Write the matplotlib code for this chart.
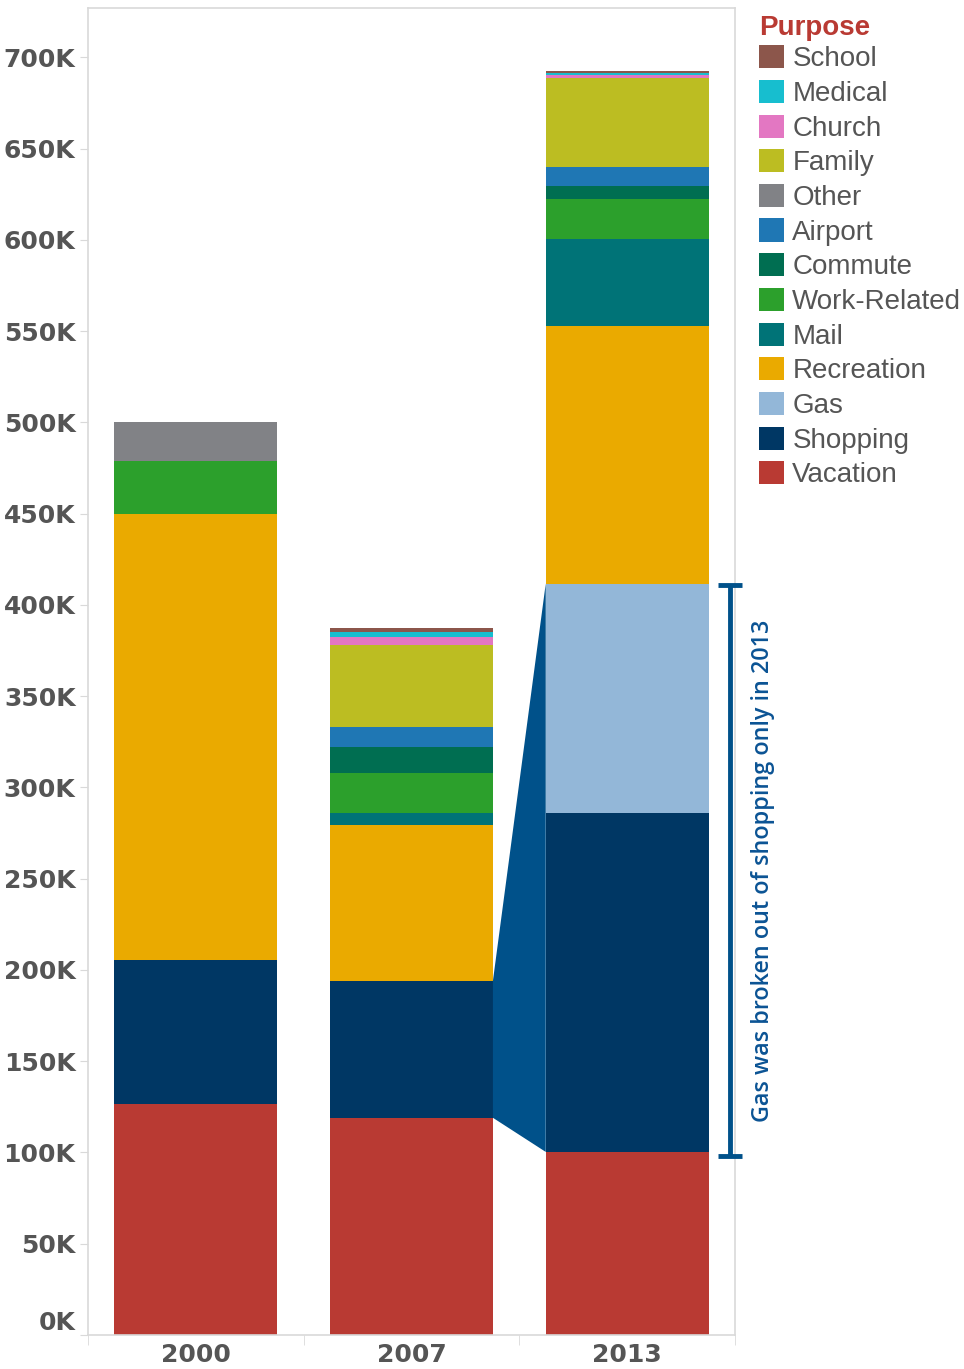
import numpy as np
import matplotlib
matplotlib.use("Agg")
import matplotlib.pyplot as plt
from matplotlib.patches import Patch, Polygon


# ============================================================
# DATA (thousands of trips)
# ============================================================
years = ["2000", "2007", "2013"]

# stacked bottom -> top
purposes = [
    "Vacation", "Shopping", "Gas", "Recreation", "Mail", "Work-Related",
    "Commute", "Airport", "Other", "Family", "Church", "Medical", "School",
]

vacation = [126.6, 119.0, 100.3]
shopping = [79.0, 75.0, 185.9]
gas = [0.0, 0.0, 125.5]
recreation = [244.0, 85.6, 140.9]
mail = [0.0, 6.6, 47.7]
work_related = [29.0, 21.9, 22.0]
commute = [0.0, 14.3, 7.1]
airport = [0.0, 10.9, 10.4]
other = [21.4, 0.0, 0.0]
family = [0.0, 44.8, 48.6]
church = [0.0, 4.4, 1.8]
medical = [0.0, 2.4, 1.1]
school = [0.0, 2.2, 1.1]

series = [vacation, shopping, gas, recreation, mail, work_related,
          commute, airport, other, family, church, medical, school]

colors = {
    "Vacation": "#b93a33",
    "Shopping": "#003764",
    "Gas": "#93b7d8",
    "Recreation": "#eaaa00",
    "Mail": "#007377",
    "Work-Related": "#2ca02c",
    "Commute": "#006e51",
    "Airport": "#1f77b4",
    "Other": "#818286",
    "Family": "#bcbd22",
    "Church": "#e377c2",
    "Medical": "#17becf",
    "School": "#8c564b",
}

y_ticks = list(range(0, 701, 50))
note = "Gas was broken out of shopping only in 2013"

# ============================================================
# PLOT
# ============================================================
fig = plt.figure(figsize=(9.64, 13.69), dpi=100)
ax = fig.add_axes([88 / 964, 34 / 1369, 647 / 964, 1327 / 1369])

x = np.arange(len(years))
bar_w = 0.755
bottoms = np.zeros(len(years))
cum = {}

for name, vals in zip(purposes, series):
    vals = np.array(vals)
    ax.bar(x, vals, bottom=bottoms, width=bar_w,
           color=colors[name], linewidth=0, zorder=2)
    cum[name] = (bottoms.copy(), bottoms + vals)
    bottoms = bottoms + vals

# connector from 2007 shopping to 2013 shopping + gas
half = bar_w / 2
poly = Polygon([
    (x[1] + half, cum["Shopping"][0][1]),
    (x[1] + half, cum["Shopping"][1][1]),
    (x[2] - half, cum["Gas"][1][2]),
    (x[2] - half, cum["Shopping"][0][2]),
], closed=True, facecolor="#00518a", edgecolor="none", zorder=3)
ax.add_patch(poly)

# bracket
ann_color = "#00518a"
bx = 2.477
y_lo = cum["Shopping"][0][2] - 2.5
y_hi = cum["Gas"][1][2] - 1.0
ax.plot([bx, bx], [y_lo, y_hi], color=ann_color, lw=3.5,
        clip_on=False, zorder=5, solid_capstyle="butt")
for yy in (y_lo, y_hi):
    ax.plot([bx - 0.055, bx + 0.055], [yy, yy], color=ann_color, lw=3.5,
            clip_on=False, zorder=5, solid_capstyle="butt")

ax.text(2.63, (y_lo + y_hi) / 2, note, rotation=90, ha="center",
        va="center", color="#0b5394", fontsize=16.8, fontweight="semibold",
        family=["Open Sans", "DejaVu Sans"], clip_on=False)

# axes styling
ax.set_xlim(-0.5, 2.5)
ax.set_ylim(0, 727)
for s in ax.spines.values():
    s.set_color("#d9d9d9")
    s.set_linewidth(1.2)

ax.set_yticks(y_ticks)
ax.set_yticklabels([f"{v}K" for v in y_ticks])
ax.tick_params(axis="y", length=6, color="#d9d9d9", pad=3)
for lbl in ax.get_yticklabels():
    lbl.set_family(["Liberation Sans Narrow", "DejaVu Sans"])
    lbl.set_fontweight("bold")
    lbl.set_fontsize(18)
    lbl.set_color("#555555")
# nudge 0K label up like the original
ax.get_yticklabels()[0].set_va("bottom")

ax.set_xticks(x)
ax.set_xticklabels(years)
ax.set_xticks([-0.5, 0.5, 1.5, 2.5], minor=True)
ax.tick_params(axis="x", which="major", length=0, pad=6)
ax.tick_params(axis="x", which="minor", length=7, color="#d9d9d9")
for lbl in ax.get_xticklabels():
    lbl.set_family(["Liberation Sans Narrow", "DejaVu Sans"])
    lbl.set_fontweight("bold")
    lbl.set_fontsize(18)
    lbl.set_color("#555555")

# legend
handles = [Patch(facecolor=colors[p], edgecolor="none") for p in purposes[::-1]]
leg = fig.legend(handles, purposes[::-1], title="Purpose",
                 loc="upper left", bbox_to_anchor=(759 / 964, 1 - 15 / 1369),
                 frameon=False, prop={"family": ["Liberation Sans", "DejaVu Sans"], "size": 20},
                 handlelength=0.9, handleheight=0.9, handletextpad=0.3,
                 labelspacing=0.272, borderaxespad=0, borderpad=0)
leg.get_title().set_color("#b93a33")
leg.get_title().set_fontweight("bold")
leg.get_title().set_fontsize(20)
leg.get_title().set_family(["Liberation Sans", "DejaVu Sans"])
leg._legend_box.align = "left"
leg._legend_box.sep = 3
for t in leg.get_texts():
    t.set_color("#555555")

fig.savefig("out.png", dpi=100)
